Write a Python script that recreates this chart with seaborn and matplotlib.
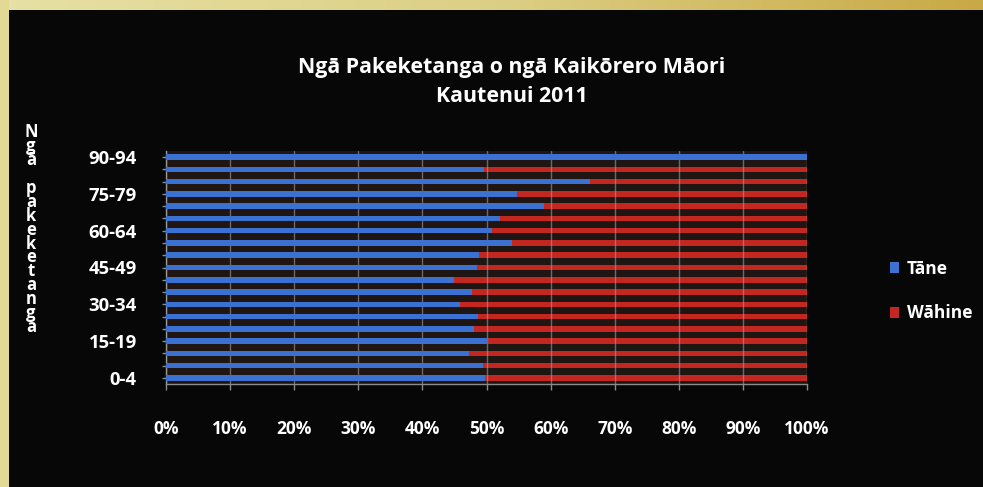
import numpy as np
import pandas as pd
import matplotlib
matplotlib.use("Agg")
import matplotlib.pyplot as plt
import seaborn as sns
from matplotlib.patches import Rectangle, Patch

# ---- data ----
categories = ["0-4", "5-9", "10-14", "15-19", "20-24", "25-29", "30-34", "35-39",
              "40-44", "45-49", "50-54", "55-59", "60-64", "65-69", "70-74",
              "75-79", "80-84", "85-89", "90-94"]
tane = [49.8, 49.4, 47.2, 50.3, 48.0, 48.7, 45.8, 47.7, 45.0, 48.5,
        48.8, 54.0, 50.9, 52.1, 59.0, 54.8, 66.2, 49.6, 100.0]
wahine = [50.2, 50.6, 52.8, 49.7, 52.0, 51.3, 54.2, 52.3, 55.0, 51.5,
          51.2, 46.0, 49.1, 47.9, 41.0, 45.2, 33.8, 50.4, 0.0]
x_ticks = [0, 10, 20, 30, 40, 50, 60, 70, 80, 90, 100]
x_tick_labels = ["0%", "10%", "20%", "30%", "40%", "50%", "60%", "70%", "80%", "90%", "100%"]
title_line1 = "Ngā Pakeketanga o ngā Kaikōrero Māori"
title_line2 = "Kautenui 2011"
y_label = "Ngā pakeketanga"
legend_labels = ["Tāne", "Wāhine"]

BLUE = "#3b72d2"
RED = "#c4271f"

sns.set_theme(style="dark")
plt.rcParams["font.family"] = ["Open Sans", "DejaVu Sans"]

df = pd.DataFrame({"group": categories, "tane": tane, "wahine": wahine})
df["total"] = df["tane"] + df["wahine"]
order = categories[::-1]

W, H = 983, 487
fig = plt.figure(figsize=(W / 100, H / 100), dpi=100)
fig.patch.set_facecolor("#e2d995")
# black board
fig.patches.append(Rectangle((9 / W, 0), 1 - 9 / W, 1 - 10 / H, transform=fig.transFigure,
                             facecolor="#070707", edgecolor="none", zorder=-10))
# golden gradient on top strip
strip = fig.add_axes([9 / W, 1 - 10 / H, 1 - 9 / W, 10 / H], zorder=-5)
grad = np.linspace(0, 1, 256).reshape(1, -1)
cmap = matplotlib.colors.LinearSegmentedColormap.from_list("strip", ["#e6e0a4", "#dccf85", "#c8a945"])
strip.imshow(grad, aspect="auto", cmap=cmap)
strip.set_axis_off()

ax = fig.add_axes([166 / W, 1 - 384 / H, (807 - 166) / W, 233 / H])
ax.set_facecolor("#1f1614")

sns.barplot(data=df, y="group", x="total", order=order, color=RED, saturation=1,
            width=0.45, errorbar=None, orient="h", ax=ax, zorder=2, linewidth=0)
sns.barplot(data=df, y="group", x="tane", order=order, color=BLUE, saturation=1,
            width=0.45, errorbar=None, orient="h", ax=ax, zorder=3, linewidth=0)

ax.set_xlim(0, 100)
ax.set_xticks(x_ticks)
ax.set_xticklabels(x_tick_labels)
ax.set_yticks(range(len(order)))
ax.set_yticklabels([g if categories.index(g) % 3 == 0 else "" for g in order])
ax.set_xlabel("")
ax.set_ylabel("")

ax.xaxis.grid(True, color="#a0a0a0", linewidth=1.0, alpha=0.6, zorder=4)
ax.yaxis.grid(False)
ax.set_axisbelow(False)

for s in ["top", "right"]:
    ax.spines[s].set_visible(False)
for s in ["left", "bottom"]:
    ax.spines[s].set_visible(True)
    ax.spines[s].set_color("#8a8a8a")
    ax.spines[s].set_linewidth(1.0)

ax.tick_params(axis="x", colors="#8a8a8a", length=4, width=1, direction="out", bottom=True,
               labelcolor="white", labelsize=12.5, pad=22)
ax.tick_params(axis="y", colors="#8a8a8a", length=3, width=1, direction="out", left=True,
               labelcolor="white", labelsize=13.3, pad=18)
for lab in ax.get_xticklabels() + ax.get_yticklabels():
    lab.set_fontweight("bold")

fig.text(512 / W, 1 - 68 / H, title_line1, ha="center", va="center", color="white",
         fontsize=15.4, fontweight="bold")
fig.text(512 / W, 1 - 96 / H, title_line2, ha="center", va="center", color="white",
         fontsize=15.4, fontweight="bold")

fig.text(31 / W, 1 - 123 / H, "\n".join(y_label), ha="center", va="top", color="white",
         fontsize=12, fontweight="bold", linespacing=0.71)

handles = [Patch(facecolor=BLUE, edgecolor="none"), Patch(facecolor=RED, edgecolor="none")]
leg = fig.legend(handles, legend_labels, loc="center left",
                 bbox_to_anchor=(874 / W, 1 - 291 / H), frameon=False,
                 handlelength=0.55, handleheight=0.55, handletextpad=0.45,
                 labelspacing=1.55, prop={"weight": "bold", "size": 12.5})
for t in leg.get_texts():
    t.set_color("white")

fig.savefig("out.png", dpi=100, facecolor=fig.get_facecolor())
